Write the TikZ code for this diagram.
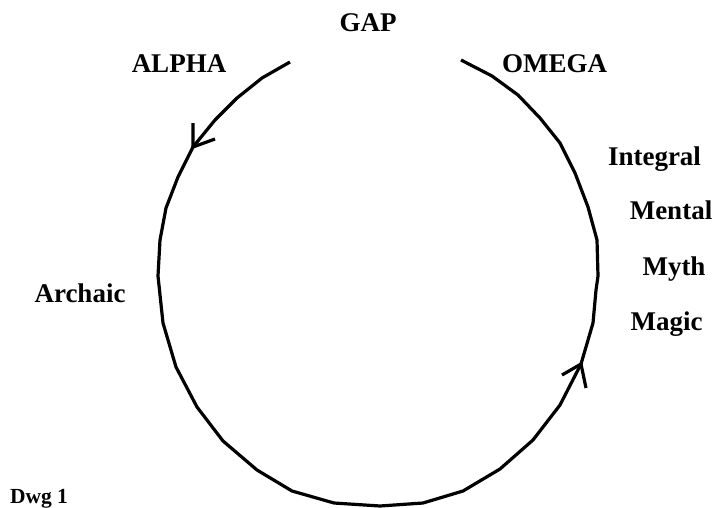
\documentclass[tikz,border=0pt]{standalone}
\usepackage{fontspec}
\setmainfont{Liberation Serif}
\begin{document}
\begin{tikzpicture}[x=1pt,y=-1pt,
  lbl/.style={font=\fontsize{27}{32}\selectfont\bfseries, inner sep=0pt, anchor=base},
  small/.style={font=\fontsize{21.5}{26}\selectfont\bfseries, inner sep=0pt, anchor=base},
  cyc/.style={line width=3.2pt, line join=round, line cap=butt},
  tipline/.style={line width=3.2pt, line join=miter, line cap=butt}]
\useasboundingbox (0,0) rectangle (714,508);
% labels
\node[lbl] (gap) at (368,32) {GAP};
\node[lbl] (alpha) at (179,73) {ALPHA};
\node[lbl, anchor=base west] (omega) at (502,73) {OMEGA};
\node[lbl] (integral) at (654.5,165) {Integral};
\node[lbl] (mental) at (671,219) {Mental};
\node[lbl] (myth) at (674,275) {Myth};
\node[lbl] (magic) at (666.5,330) {Magic};
\node[lbl] (archaic) at (80,302) {Archaic};
\node[small] (dwg) at (39,503) {Dwg 1};
% cycle polygon
\coordinate (s) at (290,62);
\coordinate (e) at (461,60);
\coordinate (la) at (193,147);
\coordinate (ra) at (581,364);
\draw[cyc] (s) -- (262,78) -- (237,98) -- (215,120) -- (la) -- (178,177) -- (166,208)
  -- (160,240) -- (158,276) -- (163,323) -- (176,367) -- (197,407) -- (223,441)
  -- (257,470) -- (292,491) -- (334,503) -- (380,506) -- (423,503) -- (463,491)
  -- (500,469) -- (533,440) -- (560,405) -- (ra) -- (593,323) -- (596,290)
  -- (598,276) -- (597,240) -- (588,207) -- (575,173) -- (560,143) -- (540,118)
  -- (518,95) -- (492,76) -- (e);
% arrowheads
\draw[tipline] (193,123) -- (la) -- (215,139);
\draw[tipline] (562,375) -- (ra) -- (586,388);
\end{tikzpicture}
\end{document}
